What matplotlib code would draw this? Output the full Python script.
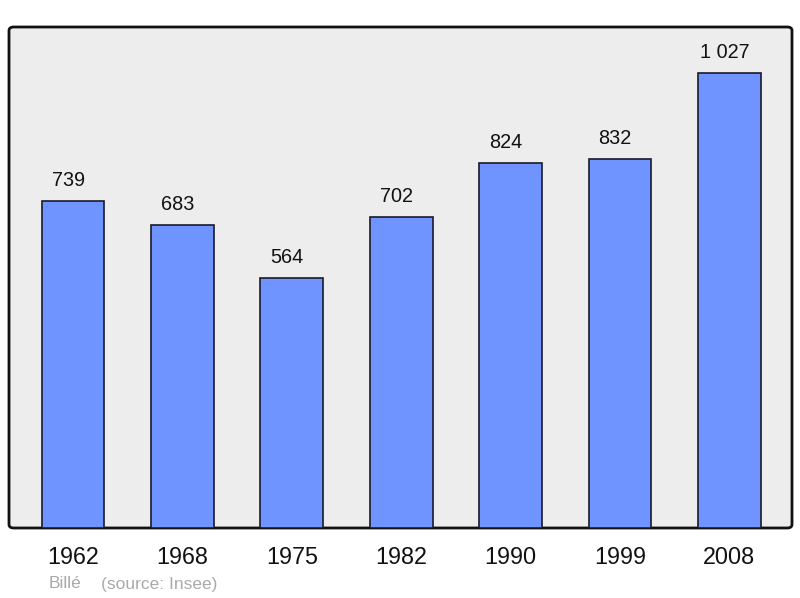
import numpy as np
import matplotlib.pyplot as plt
from matplotlib.patches import FancyBboxPatch

years = ['1962', '1968', '1975', '1982', '1990', '1999', '2008']
population = [739, 683, 564, 702, 824, 832, 1027]
labels = ['739', '683', '564', '702', '824', '832', '1 027']

plt.rcParams['font.family'] = ['Liberation Sans', 'DejaVu Sans']

fig = plt.figure(figsize=(8, 5.98), dpi=100)
W, H = 800, 598
left, right, top, bottom = 9, 792, 27, 528
ax = fig.add_axes([left / W, 1 - bottom / H, (right - left) / W, (bottom - top) / H])
ax.patch.set_alpha(0)
ax.set_zorder(2)

# rounded frame behind the axes
box = FancyBboxPatch((left / W, 1 - bottom / H), (right - left) / W, (bottom - top) / H,
                     boxstyle='round,pad=0,rounding_size=0.006', transform=fig.transFigure,
                     facecolor='#ededed', edgecolor='#111111', linewidth=2, zorder=0)
fig.patches.append(box)

x = np.arange(len(years))
ax.bar(x, population, width=0.575, color='#7094ff', edgecolor='#1a1a2a', linewidth=1.2, zorder=2)
for xi, v, lab in zip(x, population, labels):
    ax.annotate(lab, (xi, v), xytext=(-3.5, 10.8), textcoords='offset points',
                ha='center', va='baseline', fontsize=14.3, color='#111111')

ax.set_xlim(-0.585, 6.572)
ax.set_ylim(0, 1131)
ax.set_xticks(x)
ax.set_xticklabels(years, fontsize=16.8, color='#111111')
ax.tick_params(axis='x', length=0, pad=13)
ax.set_yticks([])
for s in ax.spines.values():
    s.set_visible(False)

fig.text(49 / W, 1 - 584 / H, 'Billé', fontsize=12.5, color='#aaaaaa', va='center')
fig.text(101 / W, 1 - 584 / H, '(source: Insee)', fontsize=12.5, color='#aaaaaa', va='center')

fig.savefig('out.png', dpi=100)
